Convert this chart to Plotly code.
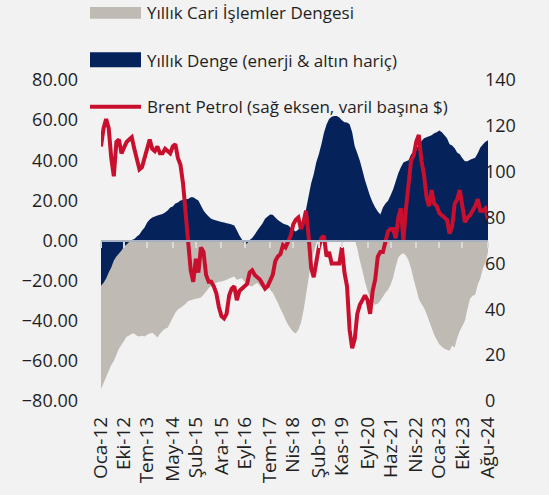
import plotly.graph_objects as go

# ---------------- data ----------------
month_names = ["Oca", "Şub", "Mar", "Nis", "May", "Haz", "Tem", "Ağu", "Eyl", "Eki", "Kas", "Ara"]
dates = [f"{month_names[m]}-{y % 100:02d}" for y in range(2012, 2025) for m in range(12)][:152]

tick_labels = ["Oca-12", "Eki-12", "Tem-13", "May-14", "Şub-15", "Ara-15", "Eyl-16", "Tem-17",
               "Nis-18", "Şub-19", "Kas-19", "Eyl-20", "Haz-21", "Nis-22", "Oca-23", "Eki-23", "Ağu-24"]

# Yıllık Cari İşlemler Dengesi (left axis, bn $)
cari = [-74, -71, -68, -65, -62, -60, -57, -54, -52, -50,
        -48, -47.3, -46.5, -46.3, -47.5, -47.8, -47.5, -47.8, -47, -46.3,
        -46, -47, -48.3, -46.5, -45, -44, -43.5, -41, -38.5, -36,
        -34.4, -33.5, -32.7, -31.5, -30.2, -29.8, -29.4, -29, -28.8, -28.4,
        -27, -25.5, -23.8, -22.5, -21.5, -21, -20.6, -20.4, -20, -19.6,
        -19, -18.5, -18, -19.6, -19.2, -18.8, -20.5, -21.5, -22.5, -22.9,
        -21.8, -21.2, -22.5, -23.7, -22.5, -22.1, -24.5, -26, -28.5, -31,
        -34, -36.5, -39.5, -42, -44, -45.5, -46.4, -44.5, -41, -35,
        -27, -19, -11, -6, -1.5, 1, 2.5, 3.5, 4.5, 5.5,
        6.5, 7.5, 8, 8.5, 8, 7, 5, 3, 1.5, 0.5,
        -4, -10, -15, -20.5, -25, -29, -31, -32, -31.5, -30,
        -28, -26, -24.5, -22, -18.5, -13, -8.5, -7, -6.4, -7.5,
        -10, -14, -19.5, -24, -29, -31.5, -33.5, -36.5, -40, -43.5,
        -47, -49.5, -51.7, -53, -54, -54.5, -55, -52.5, -53.3, -48.5,
        -45, -42.6, -40, -34, -29, -27.5, -27, -22, -19, -14,
        -11, -6]

# Yıllık Denge (enerji & altın hariç) (left axis, bn $)
denge = [-22.6, -21, -19, -16, -13.5, -10, -8, -6.5, -5, -3,
         -2, -0.8, 0.3, 0.8, 2, 3, 5, 6.5, 9, 10.5,
         11.5, 12, 12.5, 12.8, 13.2, 14, 15, 16.5, 17, 18.5,
         19, 20, 20.2, 20.5, 20.7, 21.5, 21.6, 20.7, 20, 17.4,
         15, 13.3, 12, 10.9, 10.3, 10, 9.6, 9.2, 9, 8.6,
         8.3, 8, 7.5, 5.1, 2.5, 0.5, -1.8, -1.5, 0.2, 1.3,
         3, 5, 6.7, 8.5, 10.9, 12, 13, 12.8, 11.5, 10.2,
         9.3, 8.5, 8, 7.6, 6.3, 5.3, 4.5, 5.5, 7.3, 10,
         15.5, 22, 28.5, 33, 39, 43, 48, 53.7, 57.8, 60.5,
         61.7, 62, 62, 61.3, 60, 59, 58.8, 58, 54, 47,
         43.5, 39.8, 35, 30, 26, 22, 19, 16.5, 14.5, 13,
         16.5, 18.5, 19.8, 22.5, 25.5, 29.5, 33.5, 36.5, 38.9, 39.5,
         40, 43, 44, 45.5, 48, 49.5, 51, 51.5, 52, 52.5,
         53.5, 54, 54.8, 54, 52.5, 51, 48, 47.3, 46, 43.8,
         43, 41, 39.5, 39.5, 40.2, 40.8, 41.3, 43.5, 46.3, 47.8,
         49.2, 50]

# Brent Petrol (right axis, $/barrel)
brent = [111, 119, 123, 119, 106, 98, 113, 114, 108, 111,
         113, 114, 115, 110, 106, 101, 102, 106, 111, 114,
         110, 109, 111, 108, 108, 110, 109, 108, 111, 112,
         106, 103, 95, 82, 70, 57, 52, 62, 56, 67,
         65, 55, 52, 52, 50, 47, 41, 37, 36, 38,
         46, 49, 50, 44, 48, 49, 50, 51, 56, 57,
         55, 54, 53, 51, 49, 50, 53, 55, 61, 63,
         64, 68, 67, 70, 72, 77, 79, 80, 75, 78,
         83, 72, 58, 54, 61, 67, 71, 72, 63, 65,
         60, 60, 60, 60, 67, 56, 50, 31, 23, 27,
         38, 42, 44, 46, 44, 38, 48, 53, 63, 65,
         65, 69, 74, 75, 75, 71, 80, 84, 70, 84,
         94, 105, 107, 113, 116, 105, 99, 89, 85, 92,
         86, 85, 82, 81, 80, 79, 73, 76, 86, 88,
         92, 84, 78, 80, 81, 83, 85, 88, 83, 83,
         84, 79]

series_names = ["Yıllık Cari İşlemler Dengesi",
                "Yıllık Denge (enerji & altın hariç)",
                "Brent Petrol (sağ eksen, varil başına $)"]

# ---------------- styles ----------------
GRAY = "#BFBAB4"
NAVY = "#05225A"
RED = "#C8102E"
BG = "#F2F2F2"
FONT = "Open Sans"
TXT = "#1F1F1F"

W, H = 549, 495
ML, MR, MT, MB = 101, 61, 80, 90
PW, PH = W - ML - MR, H - MT - MB


def px_x(px):
    return (px - ML) / PW


def px_y(py):
    return (H - MB - py) / PH


fig = go.Figure()
fig.add_trace(go.Scatter(x=dates, y=cari, mode="none", fill="tozeroy", fillcolor=GRAY,
                         name=series_names[0], showlegend=False))
fig.add_trace(go.Scatter(x=dates, y=denge, mode="none", fill="tozeroy", fillcolor=NAVY,
                         name=series_names[1], showlegend=False))
fig.add_trace(go.Scatter(x=dates, y=brent, mode="lines", yaxis="y2",
                         line=dict(color=RED, width=4), name=series_names[2], showlegend=False))
# invisible helper so the zero-line axis (x2) is drawn
fig.add_trace(go.Scatter(x=[0], y=[0], xaxis="x2", mode="markers", marker=dict(opacity=0),
                         hoverinfo="skip", showlegend=False))

tick_idx = [dates.index(t) for t in tick_labels]

fig.update_layout(
    width=W, height=H,
    margin=dict(l=ML, r=MR, t=MT, b=MB),
    paper_bgcolor=BG, plot_bgcolor=BG,
    font=dict(family=FONT, size=18, color=TXT),
    xaxis=dict(type="category", range=[0, len(dates) - 1], tickmode="array",
               tickvals=tick_labels, ticktext=tick_labels, tickangle=-90,
               showgrid=False, showline=False, zeroline=False, ticks="",
               ticklabelstandoff=11, tickfont=dict(size=19)),
    xaxis2=dict(overlaying="x", anchor="free", position=0.5, side="bottom",
                range=[0, len(dates) - 1], tickmode="array", tickvals=tick_idx,
                showticklabels=False, showgrid=False, zeroline=False,
                showline=True, linecolor="#A7B1C2", linewidth=2,
                ticks="outside", ticklen=6, tickwidth=2, tickcolor="#DADADA"),
    yaxis=dict(range=[-80, 80], tick0=0, dtick=20, tickformat=".2f",
               showgrid=False, zeroline=False, showline=False, ticks="",
               ticklabelstandoff=22, tickfont=dict(size=18)),
    yaxis2=dict(overlaying="y", side="right", range=[0, 140], tick0=0, dtick=20,
                showgrid=False, zeroline=False, showline=False, ticks="",
                ticklabelstandoff=-4, tickfont=dict(size=18)),
    showlegend=False,
)

# manual legend (matching the reference's stacked legend at the top left)
legend_rows = [(12, "rect", GRAY, 6, 18), (60, "rect", NAVY, 52, 67), (107, "line", RED, 0, 0)]
for (cy, kind, col, y0, y1), name in zip(legend_rows, series_names):
    if kind == "rect":
        fig.add_shape(type="rect", xref="paper", yref="paper",
                      x0=px_x(90), x1=px_x(141), y0=px_y(y1), y1=px_y(y0),
                      fillcolor=col, line=dict(width=0), layer="above")
    else:
        fig.add_shape(type="line", xref="paper", yref="paper",
                      x0=px_x(90), x1=px_x(141), y0=px_y(cy), y1=px_y(cy),
                      line=dict(color=col, width=4), layer="above")
    fig.add_annotation(x=px_x(145), y=px_y(cy), xref="paper", yref="paper",
                       text=name, showarrow=False, xanchor="left", yanchor="middle",
                       font=dict(size=17, color=TXT, family=FONT))

fig.write_html("out.html",
               config={"displayModeBar": False},
               post_script="document.body.style.margin='0';document.body.style.background='%s';" % BG)
